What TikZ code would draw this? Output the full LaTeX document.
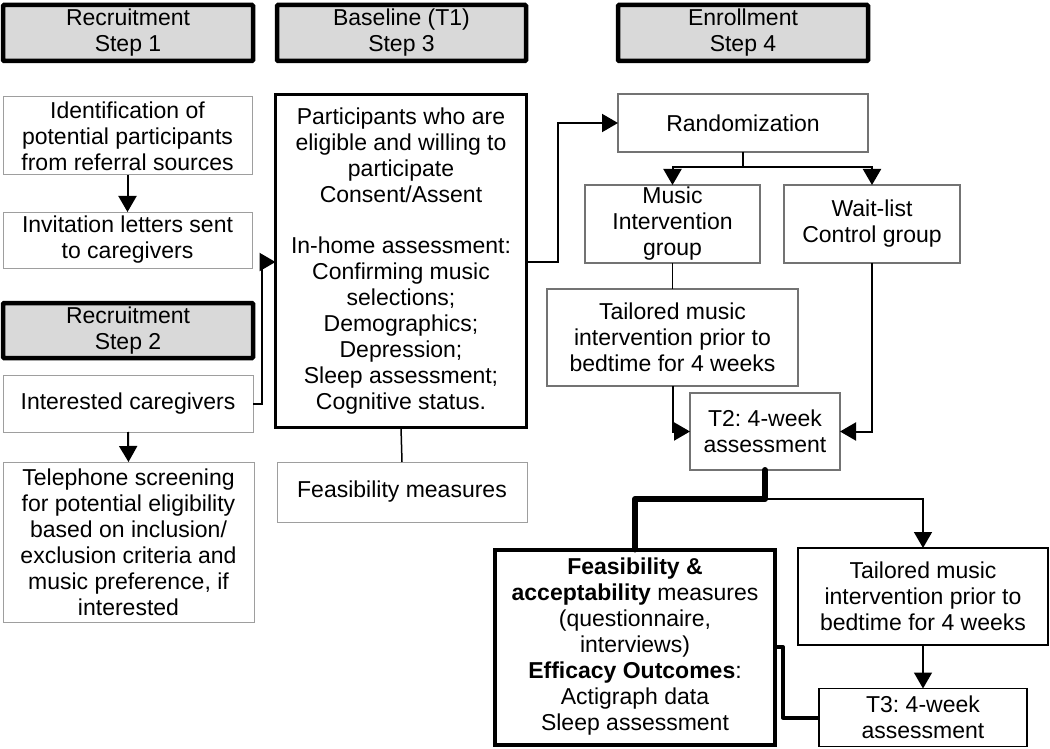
\documentclass[tikz,border=0pt]{standalone}
\usepackage{fontspec}
\setmainfont{Liberation Sans}
\usetikzlibrary{arrows.meta}
\frenchspacing
\begin{document}
\begin{tikzpicture}[x=1pt,y=-1pt,
  every node/.style={font=\fontsize{23}{26}\selectfont, align=center, inner sep=0pt, outer sep=0pt},
  hdr/.style={draw=black, line width=4.5pt, fill=black!15, rounded corners=1pt},
  lbox/.style={draw=black!38, line width=1pt, fill=white},
  mbox/.style={draw=black!55, line width=1.1pt, fill=white},
  dbox/.style={draw=black, line width=1.5pt, fill=white},
  pbox/.style={draw=black, line width=2.5pt, fill=white},
  bbox/.style={draw=black, line width=4pt, fill=white},
  arr/.style={draw=black, line width=2pt, -{Triangle[length=16pt,width=18pt]}},
  tarr/.style={draw=black, line width=1.5pt, -{Triangle[length=16pt,width=18pt]}},
  ln/.style={draw=black, line width=1.5pt},
  fat/.style={draw=black, line width=6pt, line join=round, line cap=round},
  mfat/.style={draw=black, line width=4pt, line join=round}
]
\useasboundingbox (0,0) rectangle (1050,749);
% headers
\node[hdr, minimum width=250pt, minimum height=56pt] (h1) at (128,33) {Recruitment\\Step 1};
\node[hdr, minimum width=249pt, minimum height=56pt] (h2) at (401.5,33) {Baseline (T1)\\Step 3};
\node[hdr, minimum width=250pt, minimum height=56pt] (h3) at (743,33) {Enrollment\\Step 4};
\node[hdr, minimum width=250pt, minimum height=55pt] (h4) at (128,330.5) {Recruitment\\Step 2};
% left column
\node[lbox, minimum width=249pt, minimum height=78pt] (id) at (127.5,136) {Identification of\\potential participants\\from referral sources};
\node[lbox, minimum width=249pt, minimum height=56pt] (inv) at (127.5,240) {Invitation letters sent\\to caregivers};
\node[lbox, minimum width=250pt, minimum height=57pt] (int) at (128,403.5) {Interested caregivers};
\node[lbox, minimum width=251pt, minimum height=160pt] (tel) at (128.5,542) {\fontsize{23}{27}\selectfont Telephone screening\\for potential eligibility\\based on inclusion/\\exclusion criteria and\\music preference, if\\interested};
% middle column
\node[pbox, minimum width=251pt, minimum height=333pt] (part) at (401,261) {\fontsize{23}{25.6}\selectfont Participants who are\\eligible and willing to\\participate\\Consent/Assent\\[25.6pt]In-home assessment:\\Confirming music\\selections;\\Demographics;\\Depression;\\Sleep assessment;\\Cognitive status.};
\node[lbox, minimum width=250pt, minimum height=60pt] (fm) at (402,492) {Feasibility measures};
% right column
\node[mbox, minimum width=250pt, minimum height=58pt] (rand) at (743,123) {Randomization};
\node[mbox, minimum width=175pt, minimum height=78pt] (mus) at (672.5,224) {Music\\Intervention\\group};
\node[mbox, minimum width=176pt, minimum height=78pt] (wait) at (872,224) {Wait-list\\Control group};
\node[mbox, minimum width=251pt, minimum height=97pt] (tai1) at (672.5,337.5) {Tailored music\\intervention prior to\\bedtime for 4 weeks};
\node[mbox, minimum width=150pt, minimum height=77pt] (t2) at (765,431.5) {T2: 4-week\\assessment};
\node[bbox, minimum width=280pt, minimum height=195pt] (big) at (635,647) {\textbf{Feasibility \&}\\\textbf{acceptability} measures\\(questionnaire,\\interviews)\\\textbf{Efficacy Outcomes}:\\Actigraph data\\Sleep assessment};
\node[dbox, minimum width=250pt, minimum height=97pt] (tai2) at (923,596.5) {Tailored music\\intervention prior to\\bedtime for 4 weeks};
\node[dbox, minimum width=208pt, minimum height=58pt] (t3) at (923,717.5) {T3: 4-week\\assessment};
% coordinates
\coordinate (c1) at (262,403.5);
\coordinate (c2) at (262,262);
\coordinate (c3) at (558,262);
\coordinate (c4) at (558,123);
\coordinate (c5) at (743,167);
\coordinate (c6) at (672.5,167);
\coordinate (c7) at (872,167);
\coordinate (c8) at (672.5,431.5);
\coordinate (c9) at (872,431.5);
\coordinate (c10) at (765,499);
\coordinate (c11) at (635,499);
\coordinate (c12) at (923,499);
\coordinate (c13) at (783,647);
\coordinate (c14) at (783,717.5);
% connectors
\draw[arr] (id.south) -- (inv.north);
\draw[arr] (int.south) -- (tel.north);
\draw[arr] (int.east) -- (c1) -- (c2) -- (part.west |- c2);
\draw[arr] (part.east |- c3) -- (c3) -- (c4) -- (rand.west);
\draw[ln, line width=2pt] (rand.south) -- (c5);
\draw[arr] (c5) -- (c6) -- (mus.north);
\draw[arr] (c5) -- (c7) -- (wait.north);
\draw[ln, line width=1.2pt] (mus.south) -- (tai1.north);
\draw[arr] (tai1.south) -- (c8) -- (t2.west);
\draw[arr] (wait.south) -- (c9) -- (t2.east);
\draw[ln] (part.south) -- (fm.north);
\draw[tarr] (c10) -- (c12) -- (tai2.north);
\draw[fat] (t2.south) -- (c10) -- (c11) -- (big.north);
\draw[tarr] (tai2.south) -- (t3.north);
\draw[mfat] (big.east) -- (c13) -- (c14) -- (t3.west);
\end{tikzpicture}
\end{document}
